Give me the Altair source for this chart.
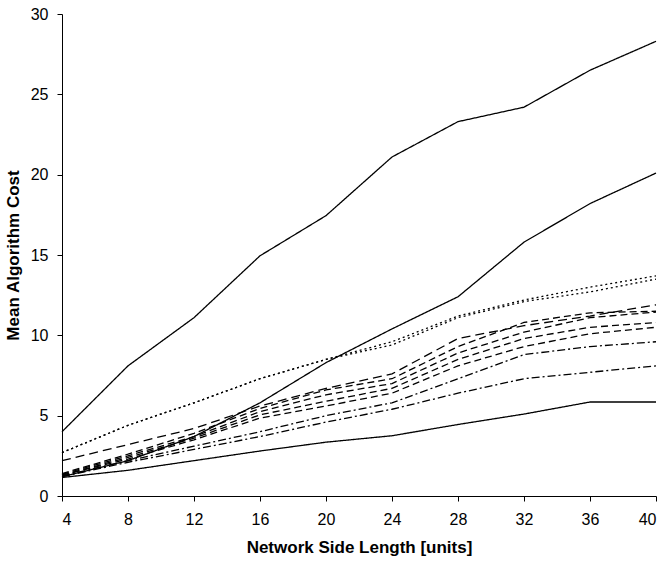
import altair as alt
import pandas as pd

x_vals = [4, 8, 12, 16, 20, 24, 28, 32, 36, 40]

solid_top = [4.0, 8.1, 11.1, 14.95, 17.45, 21.1, 23.3, 24.2, 26.5, 28.3]
solid_mid = [1.2, 2.2, 3.7, 5.8, 8.3, 10.4, 12.4, 15.8, 18.2, 20.1]
solid_low = [1.15, 1.6, 2.2, 2.8, 3.35, 3.75, 4.45, 5.1, 5.85, 5.85]
dotted_a = [2.7, 4.4, 5.8, 7.3, 8.5, 9.6, 11.2, 12.2, 13.0, 13.7]
dotted_b = [2.7, 4.4, 5.8, 7.3, 8.5, 9.4, 11.1, 12.1, 12.7, 13.5]
dashed_a = [2.2, 3.2, 4.2, 5.6, 6.7, 7.6, 9.8, 10.6, 11.2, 11.9]
dashed_b = [1.4, 2.6, 3.9, 5.45, 6.6, 7.3, 9.3, 10.8, 11.4, 11.5]
dashed_c = [1.35, 2.5, 3.7, 5.25, 6.3, 7.0, 8.9, 10.2, 11.1, 11.45]
dashed_d = [1.3, 2.4, 3.6, 5.05, 5.9, 6.7, 8.5, 9.8, 10.5, 10.8]
dashed_e = [1.3, 2.3, 3.5, 4.85, 5.6, 6.4, 8.1, 9.3, 10.1, 10.5]
dashdot_a = [1.25, 2.2, 3.1, 4.0, 5.0, 5.8, 7.3, 8.8, 9.3, 9.6]
dashdot_b = [1.2, 2.1, 2.9, 3.7, 4.6, 5.4, 6.4, 7.3, 7.7, 8.1]

series = {
    "solid_top": solid_top,
    "solid_mid": solid_mid,
    "solid_low": solid_low,
    "dotted_a": dotted_a,
    "dotted_b": dotted_b,
    "dashed_a": dashed_a,
    "dashed_b": dashed_b,
    "dashed_c": dashed_c,
    "dashed_d": dashed_d,
    "dashed_e": dashed_e,
    "dashdot_a": dashdot_a,
    "dashdot_b": dashdot_b,
}

dash_styles = {
    "solid_top": [1, 0],
    "solid_mid": [1, 0],
    "solid_low": [1, 0],
    "dotted_a": [2, 3],
    "dotted_b": [2, 3],
    "dashed_a": [9, 5],
    "dashed_b": [7, 4],
    "dashed_c": [7, 4],
    "dashed_d": [7, 4],
    "dashed_e": [7, 4],
    "dashdot_a": [8, 3, 2, 3],
    "dashdot_b": [8, 3, 2, 3],
}

rows = []
for name, vals in series.items():
    for xv, yv in zip(x_vals, vals):
        rows.append({"series": name, "x": xv, "y": yv})
df = pd.DataFrame(rows)

names = list(series.keys())

chart = alt.Chart(df).mark_line(color="black", strokeWidth=1.3).encode(
    x=alt.X("x:Q", title="Network Side Length [units]",
            scale=alt.Scale(domain=[4, 40], nice=False, zero=False),
            axis=alt.Axis(values=x_vals, grid=False, tickSize=5, labelPadding=10,
                          titlePadding=12)),
    y=alt.Y("y:Q", title="Mean Algorithm Cost",
            scale=alt.Scale(domain=[0, 30], nice=False),
            axis=alt.Axis(values=[0, 5, 10, 15, 20, 25, 30], grid=False, tickSize=5,
                          labelPadding=9, titlePadding=8)),
    detail="series:N",
    strokeDash=alt.StrokeDash("series:N",
                              scale=alt.Scale(domain=names,
                                              range=[dash_styles[n] for n in names]),
                              legend=None),
).properties(
    width=594,
    height=482,
    autosize=alt.AutoSizeParams(type="none"),
    padding={"left": 62, "top": 14, "right": 7, "bottom": 66},
).configure_view(stroke=None).configure_axis(
    domainColor="black",
    tickColor="black",
    labelColor="black",
    titleColor="black",
    labelFont="Liberation Sans",
    titleFont="Liberation Sans",
    labelFontSize=16,
    titleFontSize=17,
    titleFontWeight="bold",
)

chart.save("out.html", embed_options={"renderer": "svg", "actions": False})
